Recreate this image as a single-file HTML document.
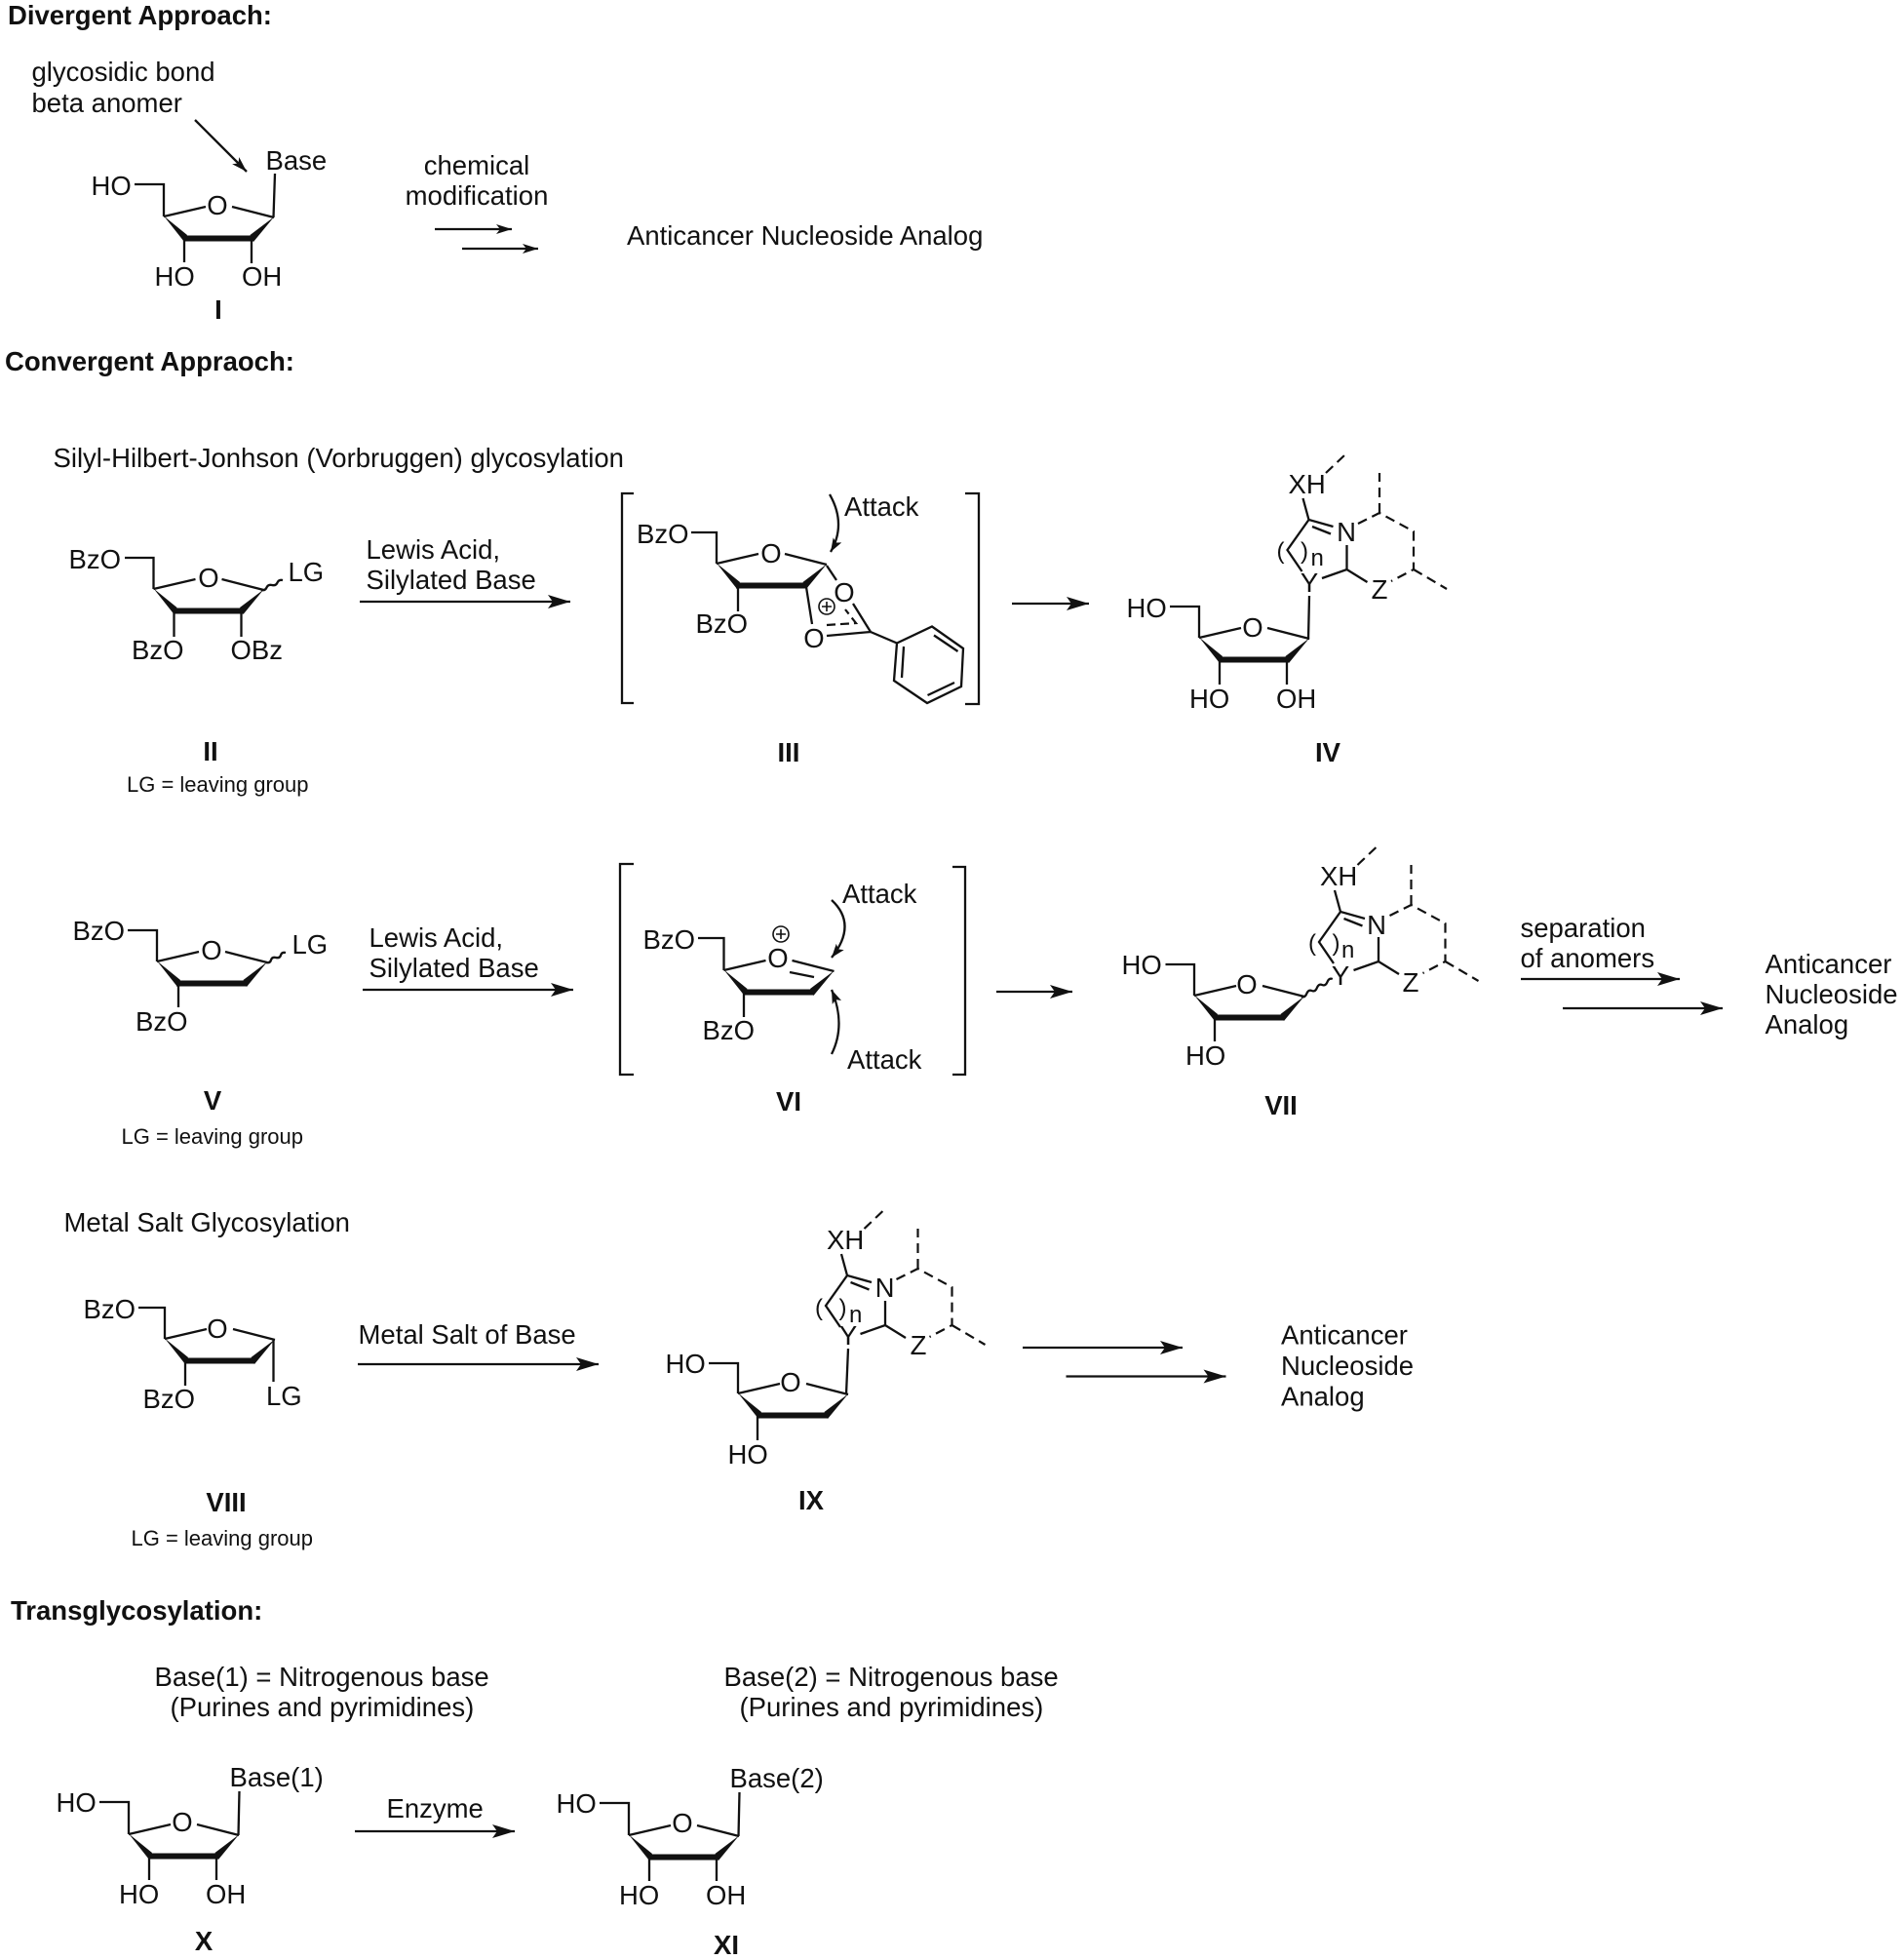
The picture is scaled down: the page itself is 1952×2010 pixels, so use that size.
<!DOCTYPE html>
<html lang="en">
<head>
<meta charset="utf-8">
<title>Nucleoside analog synthesis approaches</title>
<style>
html,body{margin:0;padding:0;background:#fff;width:1952px;height:2010px;overflow:hidden}
svg{display:block}
text{font-family:"Liberation Sans",Arial,sans-serif;font-size:27.5px;fill:#111}
.b{font-weight:bold}
.m{text-anchor:middle}
.s{font-size:22px}
.n{font-size:24px}
.l{fill:none;stroke:#111;stroke-width:2.3}
.a{fill:none;stroke:#111;stroke-width:2.3}
.d{fill:none;stroke:#111;stroke-width:2.2;stroke-dasharray:10 6}
</style>
</head>
<body>
<svg width="1952" height="2010" viewBox="0 0 1952 2010" xmlns="http://www.w3.org/2000/svg">
<defs>
<marker id="big" markerUnits="userSpaceOnUse" markerWidth="26" markerHeight="18" refX="23" refY="8" orient="auto"><path d="M0 1 L23 8 L0 15 L5 8 Z" fill="#111"/></marker>
<marker id="small" markerUnits="userSpaceOnUse" markerWidth="20" markerHeight="14" refX="16" refY="6" orient="auto"><path d="M0 1 L16 6 L0 11 L4 6 Z" fill="#111"/></marker>
<marker id="curve" markerUnits="userSpaceOnUse" markerWidth="18" markerHeight="12" refX="14" refY="5" orient="auto"><path d="M0 0 L14 5 L0 10 L3 5 Z" fill="#111"/></marker>
<g id="ring">
<path class="l" d="M0 0 L43 -10 M70 -10 L113 1"/>
<path d="M0 -0.5 L21 26 L24 19 Z M113 0.5 L92 26 L88.5 19 Z" fill="#111"/>
<path d="M20 19.5 H92 V25.5 H20 Z" fill="#111"/>
</g>
<g id="het">
<path class="l" d="M-6 -22 L0 0 L25 7 M3.5 7 L22.5 14.5 M0 0 L-22 31 L-7 53 M39 26 V51 M13.5 60 L39 51 L60 64"/>
<path class="d" d="M50.5 4 L72.5 -7 L107.5 12 V51 L84.5 63 M107.5 51 L141.5 71 M72.5 -7 V-48 M17.5 -48 L36.5 -66"/>
</g>
<g id="plus">
<circle r="8" fill="none" stroke="#111" stroke-width="1.6"/>
<path d="M-5 0 H5 M0 -5 V5" stroke="#111" stroke-width="1.6"/>
</g>
</defs>

<!-- Divergent -->
<text class="b" x="8" y="25">Divergent Approach:</text>
<text x="32.5" y="83">glycosidic bond</text>
<text x="32.5" y="115">beta anomer</text>
<line class="l" x1="200" y1="123" x2="253" y2="176" marker-end="url(#small)"/>
<text x="93.5" y="200">HO</text>
<text x="272.5" y="174">Base</text>
<text class="m" x="223" y="220">O</text>
<use href="#ring" x="168" y="222"/>
<path class="l" d="M138 189 H168 V222 M189 245 V269 M258 245 V270 M280.5 223 L282 178"/>
<text x="158.5" y="293">HO</text>
<text x="248" y="293">OH</text>
<text class="b m" x="224" y="327">I</text>
<text class="m" x="489" y="179">chemical</text>
<text class="m" x="489" y="210">modification</text>
<line class="a" x1="446" y1="235" x2="525" y2="235" marker-end="url(#small)"/>
<line class="a" x1="474" y1="255" x2="552" y2="255" marker-end="url(#small)"/>
<text x="643" y="251">Anticancer Nucleoside Analog</text>

<!-- Convergent -->
<text class="b" x="5" y="380">Convergent Appraoch:</text>
<text x="54.5" y="479">Silyl-Hilbert-Jonhson (Vorbruggen) glycosylation</text>

<!-- II -->
<text x="70.5" y="583">BzO</text>
<text class="m" x="214" y="602">O</text>
<use href="#ring" x="157.5" y="604"/>
<path class="l" d="M128 572 H157.5 V604 M178.5 627 V653 M247.5 627 V653"/>
<path class="l" d="M268 605 q4 1 5.5 -2.5 t5.5 -2.5 t5.5 -2.5 t5.5 -2.5"/>
<text x="295.5" y="596">LG</text>
<text x="135" y="676">BzO</text>
<text x="236.5" y="676">OBz</text>
<text class="b m" x="216" y="780">II</text>
<text class="s" x="130" y="812">LG = leaving group</text>
<text x="375.5" y="573">Lewis Acid,</text>
<text x="375.5" y="604">Silylated Base</text>
<line class="a" x1="369" y1="617" x2="585" y2="617" marker-end="url(#big)"/>

<!-- III -->
<path class="l" d="M650 506 H638 V721 H650 M990 506 H1004 V722 H990"/>
<text x="653" y="557">BzO</text>
<text class="m" x="791" y="577">O</text>
<use href="#ring" x="735" y="578"/>
<path class="l" d="M709 546 H735 V578 M757 602 V627 M848 580 L858 595 M827 602 L833 640 M848 652 L893 648 M875 619 L893 648 L920 659.5 L956 642.5 L988 665 L986 704 L951 721 L917 698 L920 659.5 M958 651.5 L982.5 668 M927 663 L925 695 M951.5 713 L979 700"/>
<path d="M848 641 L878 639 L867 625" fill="none" stroke="#111" stroke-width="2.2" stroke-dasharray="9 5"/>
<text x="713.5" y="649">BzO</text>
<text class="m" x="866" y="617">O</text>
<text class="m" x="835" y="664">O</text>
<use href="#plus" x="848" y="622"/>
<text x="866" y="529">Attack</text>
<path class="l" d="M851 507 Q868.5 537.5 852 566" marker-end="url(#curve)"/>
<text class="b m" x="809" y="781">III</text>
<line class="a" x1="1038" y1="619" x2="1117" y2="619" marker-end="url(#big)"/>

<!-- IV -->
<text x="1155.5" y="633">HO</text>
<text class="m" x="1285" y="653">O</text>
<use href="#ring" x="1230" y="654"/>
<path class="l" d="M1200 622 H1230 V654 M1251 676 V702 M1320 676 V702 M1342 656 L1343 611"/>
<text x="1220" y="726">HO</text>
<text x="1309" y="726">OH</text>
<use href="#het" x="1342.5" y="533"/>
<text x="1321.5" y="506">XH</text>
<text class="m" x="1381" y="555">N</text>
<text class="m" x="1343" y="607">Y</text>
<text class="m" x="1415" y="614">Z</text>
<text class="n" x="1309.5" y="573">(</text>
<text class="n" x="1334" y="573">)</text>
<text class="n" x="1344.5" y="580">n</text>
<text class="b m" x="1362" y="781">IV</text>

<!-- V -->
<text x="74.5" y="964">BzO</text>
<text class="m" x="217" y="984">O</text>
<use href="#ring" x="161" y="986"/>
<path class="l" d="M131 954 H161 V986 M183 1008 V1033"/>
<path class="l" d="M273 987 q4 1 5 -2.5 t5 -2.5 t5 -2.5 t5 -2.5"/>
<text x="299.5" y="978">LG</text>
<text x="139" y="1057">BzO</text>
<text class="b m" x="218" y="1138">V</text>
<text class="s" x="124.5" y="1173">LG = leaving group</text>
<text x="378.5" y="971">Lewis Acid,</text>
<text x="378.5" y="1002">Silylated Base</text>
<line class="a" x1="372" y1="1015" x2="588" y2="1015" marker-end="url(#big)"/>

<!-- VI -->
<path class="l" d="M650 886 H636 V1102 H650 M977 889 H990 V1102 H977"/>
<text x="659.5" y="973">BzO</text>
<text class="m" x="798" y="992">O</text>
<use href="#plus" x="801" y="958"/>
<use href="#ring" x="742.5" y="995"/>
<path class="l" d="M716 962 H742.5 V995 M763 1017 V1043 M810 997 L835 1002"/>
<text x="720.5" y="1066">BzO</text>
<text x="864" y="926">Attack</text>
<text x="869" y="1096">Attack</text>
<path class="l" d="M853 923 Q880 948 853 982" marker-end="url(#curve)"/>
<path class="l" d="M853 1081 Q868 1051 853 1015" marker-end="url(#curve)"/>
<text class="b m" x="809" y="1139">VI</text>
<line class="a" x1="1022" y1="1017" x2="1100" y2="1017" marker-end="url(#big)"/>

<!-- VII -->
<text x="1150.5" y="999">HO</text>
<text class="m" x="1279" y="1019">O</text>
<use href="#ring" x="1225" y="1021"/>
<path class="l" d="M1195.5 989 H1225 V1021 M1246 1043 V1068"/>
<path class="l" d="M1335 1022 q3.5 1.5 5.3 -3 t5.3 -3 t5.3 -3 t5.3 -3 t5.3 -3 t5.3 -3"/>
<text x="1216" y="1092">HO</text>
<use href="#het" x="1375" y="935"/>
<text x="1354" y="908">XH</text>
<text class="m" x="1412" y="958">N</text>
<text class="m" x="1375" y="1010">Y</text>
<text class="m" x="1447" y="1017">Z</text>
<text class="n" x="1342" y="975">(</text>
<text class="n" x="1366.5" y="975">)</text>
<text class="n" x="1376" y="982">n</text>
<text class="b m" x="1314" y="1143">VII</text>
<text x="1559.5" y="961">separation</text>
<text x="1559.5" y="992">of anomers</text>
<line class="a" x1="1560" y1="1004" x2="1723" y2="1004" marker-end="url(#big)"/>
<line class="a" x1="1603" y1="1034" x2="1767" y2="1034" marker-end="url(#big)"/>
<text x="1810.5" y="998">Anticancer</text>
<text x="1810.5" y="1029">Nucleoside</text>
<text x="1810.5" y="1060">Analog</text>

<!-- VIII -->
<text x="65.5" y="1263">Metal Salt Glycosylation</text>
<text x="85.5" y="1352">BzO</text>
<text class="m" x="223" y="1372">O</text>
<use href="#ring" x="169" y="1373"/>
<path class="l" d="M142 1341 H169 V1373 M190 1396 V1421 M280.5 1374 V1417"/>
<text x="146.5" y="1444">BzO</text>
<text x="273" y="1441">LG</text>
<text class="b m" x="232" y="1550">VIII</text>
<text class="s" x="134.5" y="1585">LG = leaving group</text>
<text x="367.5" y="1378">Metal Salt of Base</text>
<line class="a" x1="367" y1="1399" x2="614" y2="1399" marker-end="url(#big)"/>

<!-- IX -->
<text x="682.5" y="1408">HO</text>
<text class="m" x="811" y="1427">O</text>
<use href="#ring" x="757" y="1429"/>
<path class="l" d="M727 1398 H757 V1429 M777 1452 V1477 M868 1430 L870 1383"/>
<text x="746.5" y="1501">HO</text>
<use href="#het" x="869" y="1308"/>
<text x="848" y="1281">XH</text>
<text class="m" x="907.5" y="1330">N</text>
<text class="m" x="870" y="1379">Y</text>
<text class="m" x="942" y="1389">Z</text>
<text class="n" x="836" y="1349">(</text>
<text class="n" x="860.5" y="1349">)</text>
<text class="n" x="871" y="1356">n</text>
<text class="b m" x="832" y="1548">IX</text>
<line class="a" x1="1049" y1="1382" x2="1213" y2="1382" marker-end="url(#big)"/>
<line class="a" x1="1093.5" y1="1411.5" x2="1257.5" y2="1411.5" marker-end="url(#big)"/>
<text x="1314" y="1378.5">Anticancer</text>
<text x="1314" y="1410">Nucleoside</text>
<text x="1314" y="1441.5">Analog</text>

<!-- Transglycosylation -->
<text class="b" x="11" y="1661">Transglycosylation:</text>
<text x="158.5" y="1729">Base(1) = Nitrogenous base</text>
<text x="174.5" y="1760">(Purines and pyrimidines)</text>
<text x="742.5" y="1729">Base(2) = Nitrogenous base</text>
<text x="758.5" y="1760">(Purines and pyrimidines)</text>

<!-- X -->
<text x="57.5" y="1858">HO</text>
<text class="m" x="187" y="1878">O</text>
<use href="#ring" x="132" y="1881"/>
<path class="l" d="M102 1848 H132 V1881 M153 1903 V1928 M222 1903 V1928 M244.5 1882 L245.5 1837"/>
<text x="122" y="1952">HO</text>
<text x="211" y="1952">OH</text>
<text x="235.5" y="1832">Base(1)</text>
<text class="b m" x="209" y="2000">X</text>
<text x="396.5" y="1864">Enzyme</text>
<line class="a" x1="364" y1="1878" x2="528" y2="1878" marker-end="url(#big)"/>

<!-- XI -->
<text x="570.5" y="1859">HO</text>
<text class="m" x="700" y="1879">O</text>
<use href="#ring" x="645" y="1882"/>
<path class="l" d="M615 1849 H645 V1882 M666 1904 V1929 M735 1904 V1929 M757.5 1883 L758.5 1838"/>
<text x="635" y="1953">HO</text>
<text x="724" y="1953">OH</text>
<text x="748.5" y="1833">Base(2)</text>
<text class="b m" x="745" y="2004">XI</text>
</svg>
</body>
</html>
